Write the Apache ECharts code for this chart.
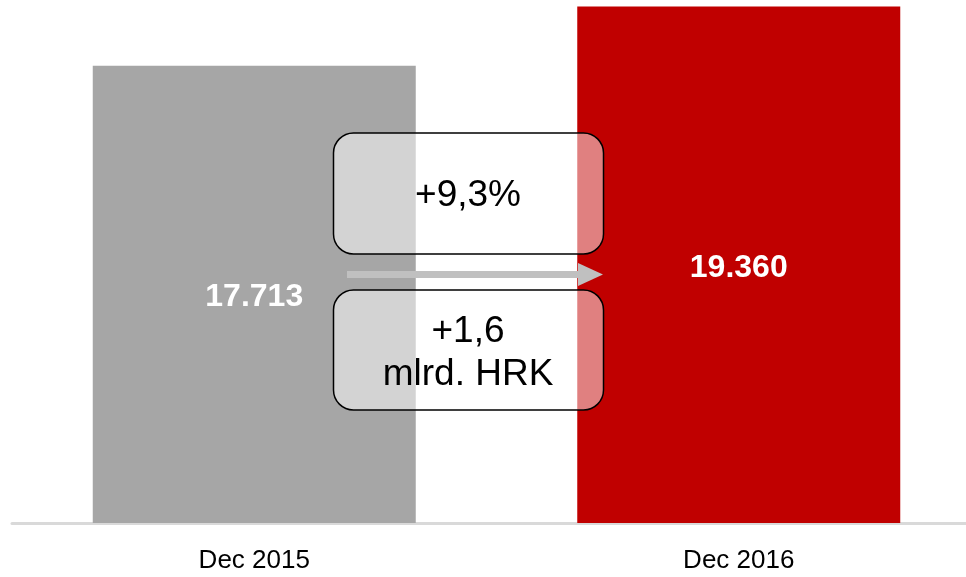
<!DOCTYPE html>
<html>
<head>
<meta charset="utf-8">
<script src="https://cdn.jsdelivr.net/npm/echarts@6/dist/echarts.min.js"></script>
<style>
  html, body { margin: 0; padding: 0; background: #fff; }
  #chart { width: 966px; height: 577px; }
</style>
</head>
<body>
<div id="chart"></div>
<script>
const categories = ['Dec 2015', 'Dec 2016'];
const values = [17713, 19360];
const valueLabels = ['17.713', '19.360'];
const changePct = '+9,3%';
const changeAbs = ['+1,6', 'mlrd. HRK'];

const barColors = ['#a6a6a6', '#c00000'];
const FONT = '"Liberation Sans", Arial, sans-serif';

const chart = echarts.init(document.getElementById('chart'));

const option = {
  animation: false,
  grid: {
    left: 12,
    top: 5,
    width: 969,
    height: 518,
    containLabel: false,
    outerBoundsMode: 'none'
  },
  xAxis: {
    type: 'category',
    data: categories,
    axisTick: { show: false },
    axisLine: { show: true, lineStyle: { color: '#d9d9d9', width: 3 } },
    axisLabel: {
      color: '#000',
      fontFamily: FONT,
      fontSize: 26,
      margin: 25
    }
  },
  yAxis: {
    type: 'value',
    min: 5000,
    max: 19400,
    show: false,
    splitLine: { show: false }
  },
  series: [
    {
      type: 'bar',
      barWidth: 323,
      data: values.map((v, i) => ({
        value: v,
        itemStyle: { color: barColors[i] }
      })),
      label: {
        show: true,
        position: 'inside',
        offset: [0, 3],
        color: '#fff',
        fontFamily: FONT,
        fontWeight: 'bold',
        fontSize: 32,
        formatter: p => valueLabels[p.dataIndex]
      }
    }
  ],
  graphic: [
    // arrow between bars
    {
      type: 'rect',
      z: 100,
      shape: { x: 347, y: 271, width: 233, height: 7 },
      style: { fill: '#c0c0c0' }
    },
    {
      type: 'polygon',
      z: 100,
      shape: { points: [[578, 263], [603, 274.5], [578, 286]] },
      style: { fill: '#c0c0c0' }
    },
    // boxes
    {
      type: 'rect',
      z: 101,
      shape: { x: 333.5, y: 133, width: 270, height: 121, r: 20 },
      style: { fill: 'rgba(255,255,255,0.5)', stroke: '#000', lineWidth: 1.5 }
    },
    {
      type: 'rect',
      z: 101,
      shape: { x: 333.5, y: 290, width: 270, height: 120, r: 20 },
      style: { fill: 'rgba(255,255,255,0.5)', stroke: '#000', lineWidth: 1.5 }
    },
    {
      type: 'text',
      z: 102,
      x: 468,
      y: 196,
      style: {
        text: changePct,
        fontFamily: FONT,
        fontSize: 37,
        fill: '#000',
        align: 'center',
        verticalAlign: 'middle'
      }
    },
    {
      type: 'text',
      z: 102,
      x: 468,
      y: 353,
      style: {
        text: changeAbs.join('\n'),
        fontFamily: FONT,
        fontSize: 37,
        lineHeight: 43,
        fill: '#000',
        align: 'center',
        verticalAlign: 'middle'
      }
    }
  ]
};

chart.setOption(option);
</script>
</body>
</html>
